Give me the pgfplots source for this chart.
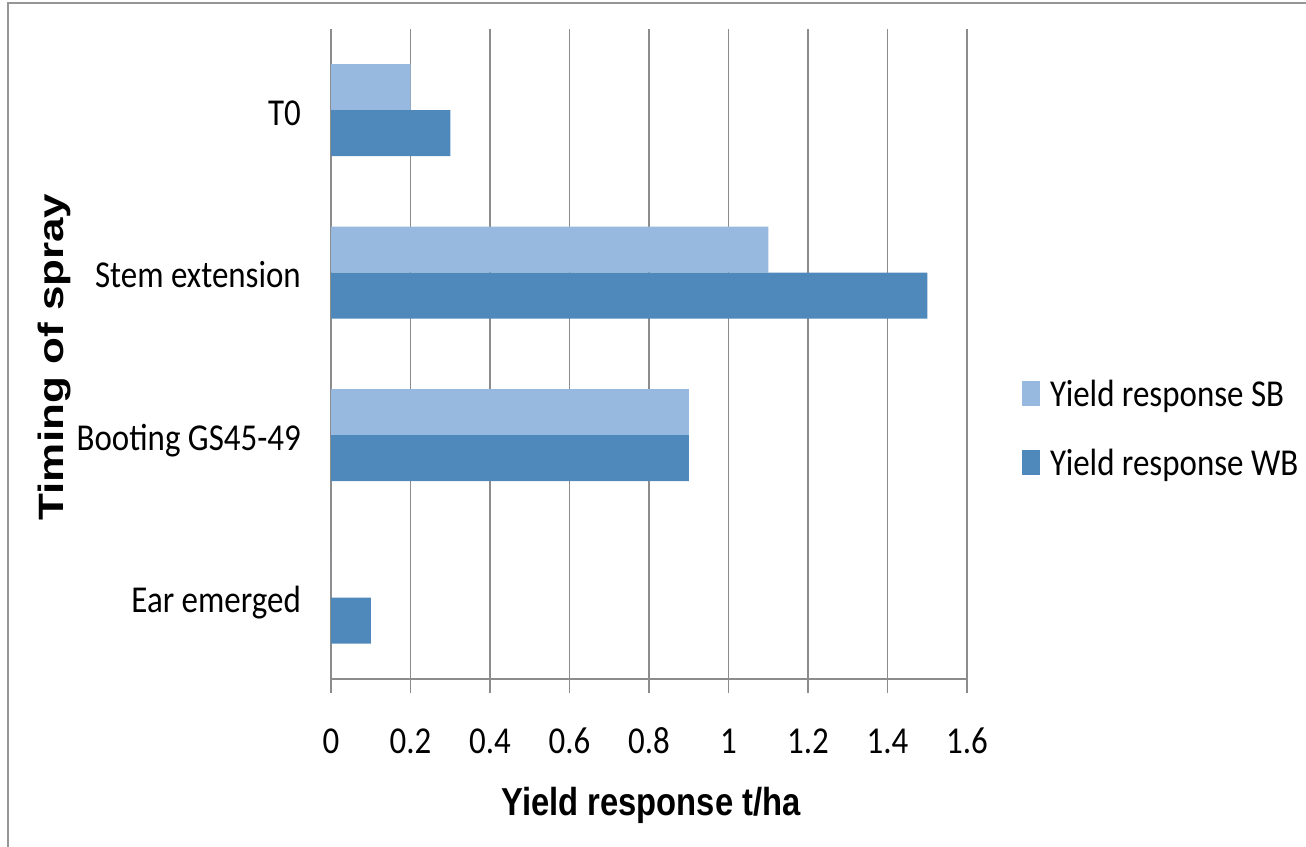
\documentclass[border=0pt]{standalone}
\usepackage{pgfplots}
\pgfplotsset{compat=1.18}
\usepackage{fontspec}
\setmainfont{Carlito}
\newfontfamily\labfont[FakeStretch=0.867]{Carlito}
\newfontfamily\ttlfont[FakeStretch=0.84]{Liberation Sans}
\newfontfamily\ytitlefont{Liberation Sans}
\newcommand\labsize{\fontsize{38bp}{40bp}\selectfont}
\definecolor{sbcol}{RGB}{151,185,224}
\definecolor{wbcol}{RGB}{79,137,188}
\definecolor{gridcol}{RGB}{140,140,140}
\definecolor{framecol}{RGB}{150,150,150}

\begin{document}
\begin{tikzpicture}
% outer chart frame (right and bottom edges fall outside the page)
\draw[framecol, line width=2bp] (8bp,-60bp) -- (8bp,844bp) -- (1400bp,844bp);

\begin{axis}[
  at={(331bp,168bp)}, anchor=south west,
  scale only axis, width=636bp, height=650bp,
  xbar, bar width=46bp,
  xmin=0, xmax=1.6, ymin=-0.5, ymax=3.5,
  xtick={0,0.2,...,1.6},
  ytick={0,1,2,3},
  yticklabels={Ear emerged, Booting GS45-49, Stem extension, T0},
  axis x line*=bottom, axis y line*=left,
  axis line style={-, gridcol, line width=1.3bp},
  xmajorgrids, grid style={gridcol, line width=1.3bp},
  tick align=outside, major tick length=14bp,
  xtick style={gridcol, line width=1.3bp},
  ytick style={draw=none},
  /pgf/number format/assume math mode=true,
  xticklabel style={font=\labfont\labsize, anchor=base, inner sep=0pt, yshift=-60bp},
  yticklabel style={font=\labfont\labsize, anchor=base east, inner sep=0pt, xshift=-16bp, yshift=-15bp},
  legend style={draw=none, fill=none, inner sep=0pt, at={(1.0865,0.4585)}, anchor=north west,
    row sep={69bp,between origins},
    nodes={inner sep=0pt, anchor=base west, font=\labfont\labsize, text height=25bp, text depth=8bp}},
  legend cell align=left,
]
\addplot[fill=sbcol, draw=none, bar shift=23bp,
  legend image code/.code={\fill[sbcol] (0bp,0bp) rectangle (18bp,25bp); \path (28bp,0bp);}]
  coordinates {(0.2,3) (1.1,2) (0.9,1) (0,0)};
\addlegendentry{Yield response SB}
\addplot[fill=wbcol, draw=none, bar shift=-23bp,
  legend image code/.code={\fill[wbcol] (0bp,0bp) rectangle (18bp,25bp); \path (28bp,0bp);}]
  coordinates {(0.3,3) (1.5,2) (0.9,1) (0.1,0)};
\addlegendentry{Yield response WB}
\end{axis}

% axis titles
\node[anchor=base, inner sep=0pt] at (651bp,32bp) {\ttlfont\bfseries\fontsize{39bp}{41bp}\selectfont Yield response t/ha};
\node[rotate=90, anchor=base, inner sep=0pt] at (63bp,490bp)
  {\scalebox{1}[0.8]{\ytitlefont\bfseries\fontsize{44bp}{46bp}\selectfont Timing of spray}};

\pgfresetboundingbox
\useasboundingbox (0bp,0bp) rectangle (1306bp,847bp);
\end{tikzpicture}
\end{document}
